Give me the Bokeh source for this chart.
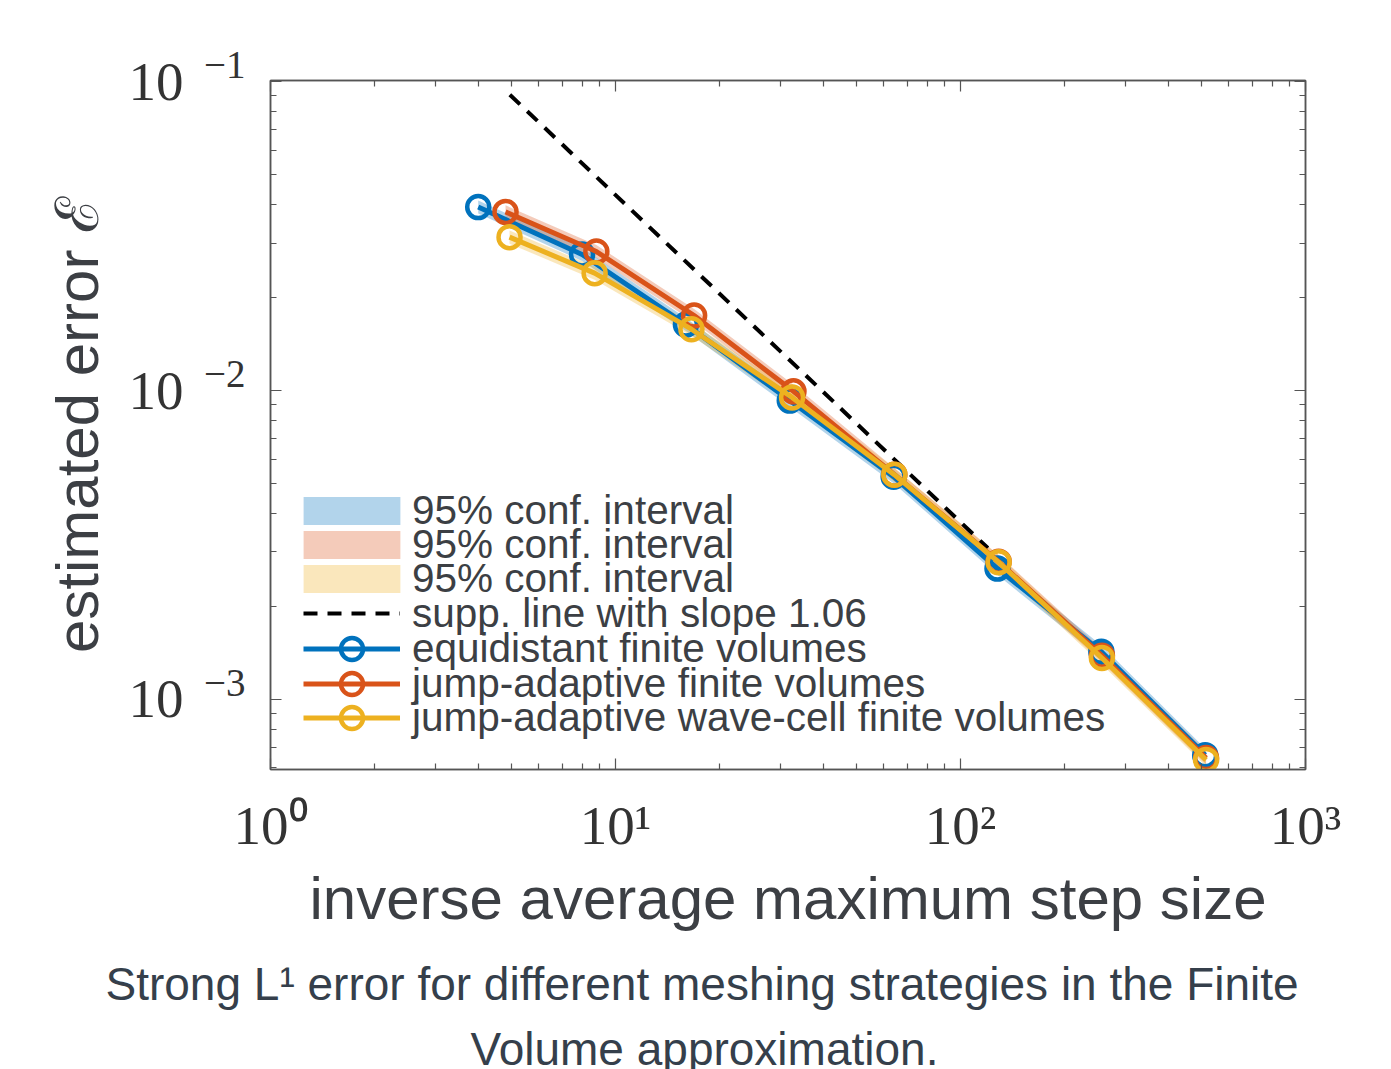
from bokeh.plotting import figure
from bokeh.models import (LogAxis, FixedTicker, Legend, LegendItem, Title,
                          CustomJSTickFormatter)
from bokeh.embed import file_html
from bokeh.resources import INLINE

# ---------------- data ----------------
equi_x = [4, 8, 16, 32, 64, 128, 256, 512]
equi_y = [0.0393, 0.0276, 0.01636, 0.00928, 0.00526, 0.00265, 0.001425, 0.000659]
equi_lo = [0.03743, 0.02629, 0.01558, 0.008838, 0.005010, 0.002524, 0.001357, 0.000628]
equi_hi = [0.04127, 0.02898, 0.01718, 0.009744, 0.005523, 0.002783, 0.001496, 0.000692]

jump_x = [4.8, 8.8, 16.9, 32.8, 64.3, 129, 257, 515]
jump_y = [0.0379, 0.0282, 0.0175, 0.00994, 0.00534, 0.00279, 0.001384, 0.000645]
jump_lo = [0.03610, 0.02686, 0.01667, 0.009467, 0.005086, 0.002657, 0.001318, 0.000614]
jump_hi = [0.03980, 0.02961, 0.01838, 0.01044, 0.005607, 0.002930, 0.001453, 0.000677]

wave_x = [4.93, 8.7, 16.6, 32.5, 64.3, 129, 257, 515]
wave_y = [0.0314, 0.0240, 0.0158, 0.0095, 0.00534, 0.00278, 0.00136, 0.000636]
wave_lo = [0.02990, 0.02286, 0.01505, 0.009048, 0.005086, 0.002648, 0.001295, 0.000606]
wave_hi = [0.03297, 0.02520, 0.01659, 0.009975, 0.005607, 0.002919, 0.001428, 0.000668]

supp_x = [4.94, 120]
supp_y = [0.0908, 0.003088]

x_major = [1, 10, 100, 1000]
x_minor = [2, 3, 4, 5, 6, 7, 8, 9, 20, 30, 40, 50, 60, 70, 80, 90,
           200, 300, 400, 500, 600, 700, 800, 900]
x_tick_labels = ["10\u2070", "10\u00b9", "10\u00b2", "10\u00b3"]
y_major = [0.001, 0.01, 0.1]
y_minor = [0.0006, 0.0007, 0.0008, 0.0009,
           0.002, 0.003, 0.004, 0.005, 0.006, 0.007, 0.008, 0.009,
           0.02, 0.03, 0.04, 0.05, 0.06, 0.07, 0.08, 0.09]
y_tick_base = ["10", "10", "10"]
y_tick_exp = ["\u22123", "\u22122", "\u22121"]

legend_labels = ["95% conf. interval", "95% conf. interval", "95% conf. interval",
                 "supp. line with slope 1.06", "equidistant finite volumes",
                 "jump-adaptive finite volumes", "jump-adaptive wave-cell finite volumes"]

caption_lines = ["Strong L\u00b9 error for different meshing strategies in the Finite",
                 "Volume approximation."]

X_RANGE = (1, 1000)
Y_RANGE = (5.92e-4, 0.101)

BLUE, RED, YELLOW = "#0072BD", "#D95319", "#EDB120"
TXT = "#3c3f44"
TICK_TXT = "#333333"
CAP = "#353f4b"
AX = "#555555"
SERIF = "Liberation Serif"
SANS = "Liberation Sans"

p = figure(x_axis_type="log", y_axis_type="log", x_range=X_RANGE, y_range=Y_RANGE,
           width=1375, height=1069, output_backend="svg", toolbar_location=None,
           min_border_left=270, min_border_right=70, min_border_top=80,
           min_border_bottom=300)
p.grid.visible = False
p.outline_line_color = AX
p.outline_line_width = 1.5
p.background_fill_color = "white"
p.border_fill_color = "white"

xt = FixedTicker(ticks=x_major, minor_ticks=x_minor)
yt = FixedTicker(ticks=y_major, minor_ticks=y_minor)

top_ax = LogAxis()
right_ax = LogAxis()
p.add_layout(top_ax, "above")
p.add_layout(right_ax, "right")
for ax in p.xaxis:
    ax.ticker = xt
for ax in p.yaxis:
    ax.ticker = yt
for ax in p.axis:
    ax.axis_line_color = AX
    ax.axis_line_width = 1.5
    ax.major_tick_line_color = AX
    ax.minor_tick_line_color = AX
    ax.major_tick_line_width = 1.2
    ax.minor_tick_line_width = 1.2
    ax.major_tick_in = 11
    ax.major_tick_out = 0
    ax.minor_tick_in = 6
    ax.minor_tick_out = 0
for ax in (top_ax, right_ax):
    ax.formatter = CustomJSTickFormatter(code="return ''")
    ax.major_label_standoff = 0

# bottom axis: 10^k labels
xa = p.below[0]
xa.major_label_overrides = dict(zip(x_major, x_tick_labels))
xa.major_label_text_font = SERIF
xa.major_label_text_font_size = "55px"
xa.major_label_text_color = TICK_TXT
xa.major_label_standoff = 25
xa.axis_label = "inverse average maximum step size"
xa.axis_label_standoff = 6

# left axis (inner): exponents, raised above the tick (blank second line lifts it)
ya_exp = p.left[0]
ya_exp.major_label_overrides = {v: e + "\n\u00a0" for v, e in zip(y_major, y_tick_exp)}
ya_exp.major_label_text_font = SERIF
ya_exp.major_label_text_font_size = "39px"
ya_exp.major_label_text_color = TICK_TXT
ya_exp.major_label_text_baseline = "middle"
ya_exp.major_label_text_line_height = 0.8
ya_exp.major_label_standoff = 25

# left axis (outer): the "10" base
ya = LogAxis(ticker=yt)
ya.axis_line_color = None
ya.major_tick_line_color = None
ya.minor_tick_line_color = None
ya.major_label_overrides = dict(zip(y_major, y_tick_base))
ya.major_label_text_font = SERIF
ya.major_label_text_font_size = "55px"
ya.major_label_text_color = TICK_TXT
ya.major_label_text_baseline = "middle"
ya.major_label_standoff = 12
ya.axis_label = "estimated error \u2130"
ya.axis_label_standoff = 15
p.add_layout(ya, "left")

for ax in (xa, ya):
    ax.axis_label_text_font = SANS
    ax.axis_label_text_font_size = "60px"
    ax.axis_label_text_font_style = "normal"
    ax.axis_label_text_color = TXT

# confidence bands
b1 = p.varea(x=equi_x, y1=equi_lo, y2=equi_hi, fill_color=BLUE, fill_alpha=0.3)
b2 = p.varea(x=jump_x, y1=jump_lo, y2=jump_hi, fill_color=RED, fill_alpha=0.3)
b3 = p.varea(x=wave_x, y1=wave_lo, y2=wave_hi, fill_color=YELLOW, fill_alpha=0.3)

# support line
sl = p.line(supp_x, supp_y, line_color="black", line_width=4, line_dash="14 10")

rs = []
for xs, ys, c in ((equi_x, equi_y, BLUE), (jump_x, jump_y, RED), (wave_x, wave_y, YELLOW)):
    l = p.line(xs, ys, line_color=c, line_width=5)
    m = p.scatter(xs, ys, marker="circle", size=22, fill_color=None,
                  line_color=c, line_width=4.5)
    rs.append([l, m])

# legend: one single-row legend per entry so rows can sit closer than the text height
entries = [[b1], [b2], [b3], [sl], rs[0], rs[1], rs[2]]
kinds = ["area", "area", "area", "line", "marker", "marker", "marker"]
for k, (lab, rends, kind) in enumerate(zip(legend_labels, entries, kinds)):
    if kind == "area":
        gw, gh, lx, stand = 121, 35, 21, 0
    elif kind == "line":
        gw, gh, lx, stand = 97, 28, 33, 12
    else:
        gw, gh, lx, stand = 97, 55, 33, 12
    row_h = max(45, gh)
    center = 511 + 34.4 * k
    bottom = 769 - (center + row_h / 2)
    lg = Legend(items=[LegendItem(label=lab, renderers=rends)], location=(lx, bottom))
    lg.background_fill_alpha = 0
    lg.border_line_color = None
    lg.padding = 0
    lg.margin = 0
    lg.spacing = 0
    lg.glyph_width = gw
    lg.glyph_height = gh
    lg.label_height = row_h
    lg.label_standoff = stand
    lg.label_text_font = SANS
    lg.label_text_font_size = "40.5px"
    lg.label_text_color = TXT
    p.add_layout(lg, "center")

# caption (two lines under the x-axis label)
t1 = Title(text=caption_lines[0], align="left", offset=-165, standoff=42,
           text_font=SANS, text_font_size="46px", text_font_style="normal",
           text_color=CAP)
t2 = Title(text=caption_lines[1], align="left", offset=200, standoff=-19,
           text_font=SANS, text_font_size="46px", text_font_style="normal",
           text_color=CAP)
p.add_layout(t1, "below")
p.add_layout(t2, "below")

open("out.html", "w").write(file_html(p, INLINE))
